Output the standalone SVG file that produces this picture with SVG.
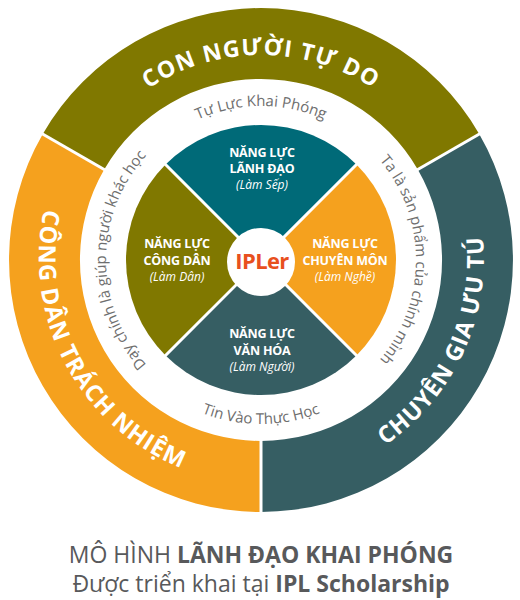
<svg xmlns="http://www.w3.org/2000/svg" width="520" height="600" viewBox="0 0 520 600">
<style>
.ring-big{font-family:"Open Sans","DejaVu Sans",sans-serif;font-weight:700;fill:#fff;}
.ring-small{font-family:"Open Sans","DejaVu Sans",sans-serif;font-size:15px;fill:#6e6e6e;}
.q{font-family:"Open Sans","DejaVu Sans",sans-serif;font-weight:700;font-size:12.5px;fill:#fff;text-anchor:middle;letter-spacing:-0.2px;}
.qi{font-family:"Open Sans","DejaVu Sans",sans-serif;font-style:italic;font-size:12px;fill:#fff;text-anchor:middle;}
.sep{stroke:#fff;stroke-width:3;}
.cap{font-family:"Open Sans","DejaVu Sans",sans-serif;font-size:23px;fill:#58595b;text-anchor:middle;}
</style>
<defs>
<path id="pTop" d="M 56 260 A 205 205 0 0 1 466 260"/>
<path id="pLeft" d="M 154.9 60.5 A 226 226 0 0 0 367.1 459.5"/>
<path id="pRight" d="M 165.9 463.9 A 225 225 0 0 0 356.1 56.1"/>
<path id="pTopIn" d="M 107 260 A 154 154 0 0 1 415 260"/>
<path id="pBotIn" d="M 97 260 A 164 164 0 0 0 425 260"/>
<path id="pRightIn" d="M 261 105 A 155 155 0 0 1 261 415"/>
<path id="pLeftIn" d="M 261 415 A 155 155 0 0 1 261 105"/>
</defs>
<rect width="520" height="600" fill="#fff"/>

<g id="outer-top">
<path d="M 42.8 134 A 252 252 0 0 1 479.2 134 L 417.8 169.5 A 181 181 0 0 0 104.2 169.5 Z" fill="#807800"/>
<text class="ring-big" font-size="23" letter-spacing="1.2"><textPath href="#pTop" startOffset="50%" text-anchor="middle">CON NGƯỜI TỰ DO</textPath></text>
</g>
<g id="outer-left">
<path d="M 261 512 A 252 252 0 0 1 42.8 134 L 104.2 169.5 A 181 181 0 0 0 261 441 Z" fill="#f5a11e"/>
<text class="ring-big" font-size="23.5" letter-spacing="1"><textPath href="#pLeft" startOffset="50%" text-anchor="middle">CÔNG DÂN TRÁCH NHIỆM</textPath></text>
</g>
<g id="outer-right">
<path d="M 479.2 134 A 252 252 0 0 1 261 512 L 261 441 A 181 181 0 0 0 417.8 169.5 Z" fill="#365e63"/>
<text class="ring-big" font-size="23.5" letter-spacing="1"><textPath href="#pRight" startOffset="50%" text-anchor="middle">CHUYÊN GIA ƯU TÚ</textPath></text>
</g>
<g id="outer-separators">
<line class="sep" x1="261" y1="438" x2="261" y2="515"/>
<line class="sep" x1="106.8" y1="171" x2="40" y2="132.5"/>
<line class="sep" x1="415.2" y1="171" x2="482" y2="132.5"/>
</g>

<g id="ring-texts">
<text class="ring-small"><textPath href="#pTopIn" startOffset="50%" text-anchor="middle">Tự Lực Khai Phóng</textPath></text>
<text class="ring-small"><textPath href="#pBotIn" startOffset="50%" text-anchor="middle">Tin Vào Thực Học</textPath></text>
<text class="ring-small" font-size="15.5"><textPath href="#pRightIn" startOffset="50%" text-anchor="middle">Ta là sản phẩm của chính mình</textPath></text>
<text class="ring-small" font-size="15.5"><textPath href="#pLeftIn" startOffset="50%" text-anchor="middle">Dạy chính là giúp người khác học</textPath></text>
</g>

<g id="q-top">
<path d="M 261 260 L 165.54 164.54 A 135 135 0 0 1 356.46 164.54 Z" fill="#006a78"/>
<text class="q" x="262" y="157">NĂNG LỰC</text>
<text class="q" x="262" y="173">LÃNH ĐẠO</text>
<text class="qi" x="262" y="189">(Làm Sếp)</text>
</g>
<g id="q-right">
<path d="M 261 260 L 356.46 164.54 A 135 135 0 0 1 356.46 355.46 Z" fill="#f5a11e"/>
<text class="q" x="345" y="248">NĂNG LỰC</text>
<text class="q" x="345" y="265">CHUYÊN MÔN</text>
<text class="qi" x="345" y="281">(Làm Nghề)</text>
</g>
<g id="q-bottom">
<path d="M 261 260 L 356.46 355.46 A 135 135 0 0 1 165.54 355.46 Z" fill="#365e63"/>
<text class="q" x="262" y="338">NĂNG LỰC</text>
<text class="q" x="262" y="355">VĂN HÓA</text>
<text class="qi" x="262" y="371">(Làm Người)</text>
</g>
<g id="q-left">
<path d="M 261 260 L 165.54 355.46 A 135 135 0 0 1 165.54 164.54 Z" fill="#807800"/>
<text class="q" x="177" y="248">NĂNG LỰC</text>
<text class="q" x="177" y="265">CÔNG DÂN</text>
<text class="qi" x="177" y="281">(Làm Dân)</text>
</g>
<g id="q-separators">
<line class="sep" x1="164.5" y1="163.5" x2="357.5" y2="356.5"/>
<line class="sep" x1="357.5" y1="163.5" x2="164.5" y2="356.5"/>
</g>

<g id="center">
<circle cx="261" cy="262" r="34" fill="#fff"/>
<text x="262" y="269" font-family="'Open Sans','DejaVu Sans',sans-serif" font-weight="700" font-size="22" letter-spacing="-0.6" fill="#e8501e" text-anchor="middle">IPLer</text>
</g>

<g id="caption">
<text class="cap" x="261" y="563">MÔ HÌNH <tspan font-weight="700">LÃNH ĐẠO KHAI PHÓNG</tspan></text>
<text class="cap" x="261" y="592">Được triển khai tại <tspan font-weight="700">IPL Scholarship</tspan></text>
</g>
</svg>
